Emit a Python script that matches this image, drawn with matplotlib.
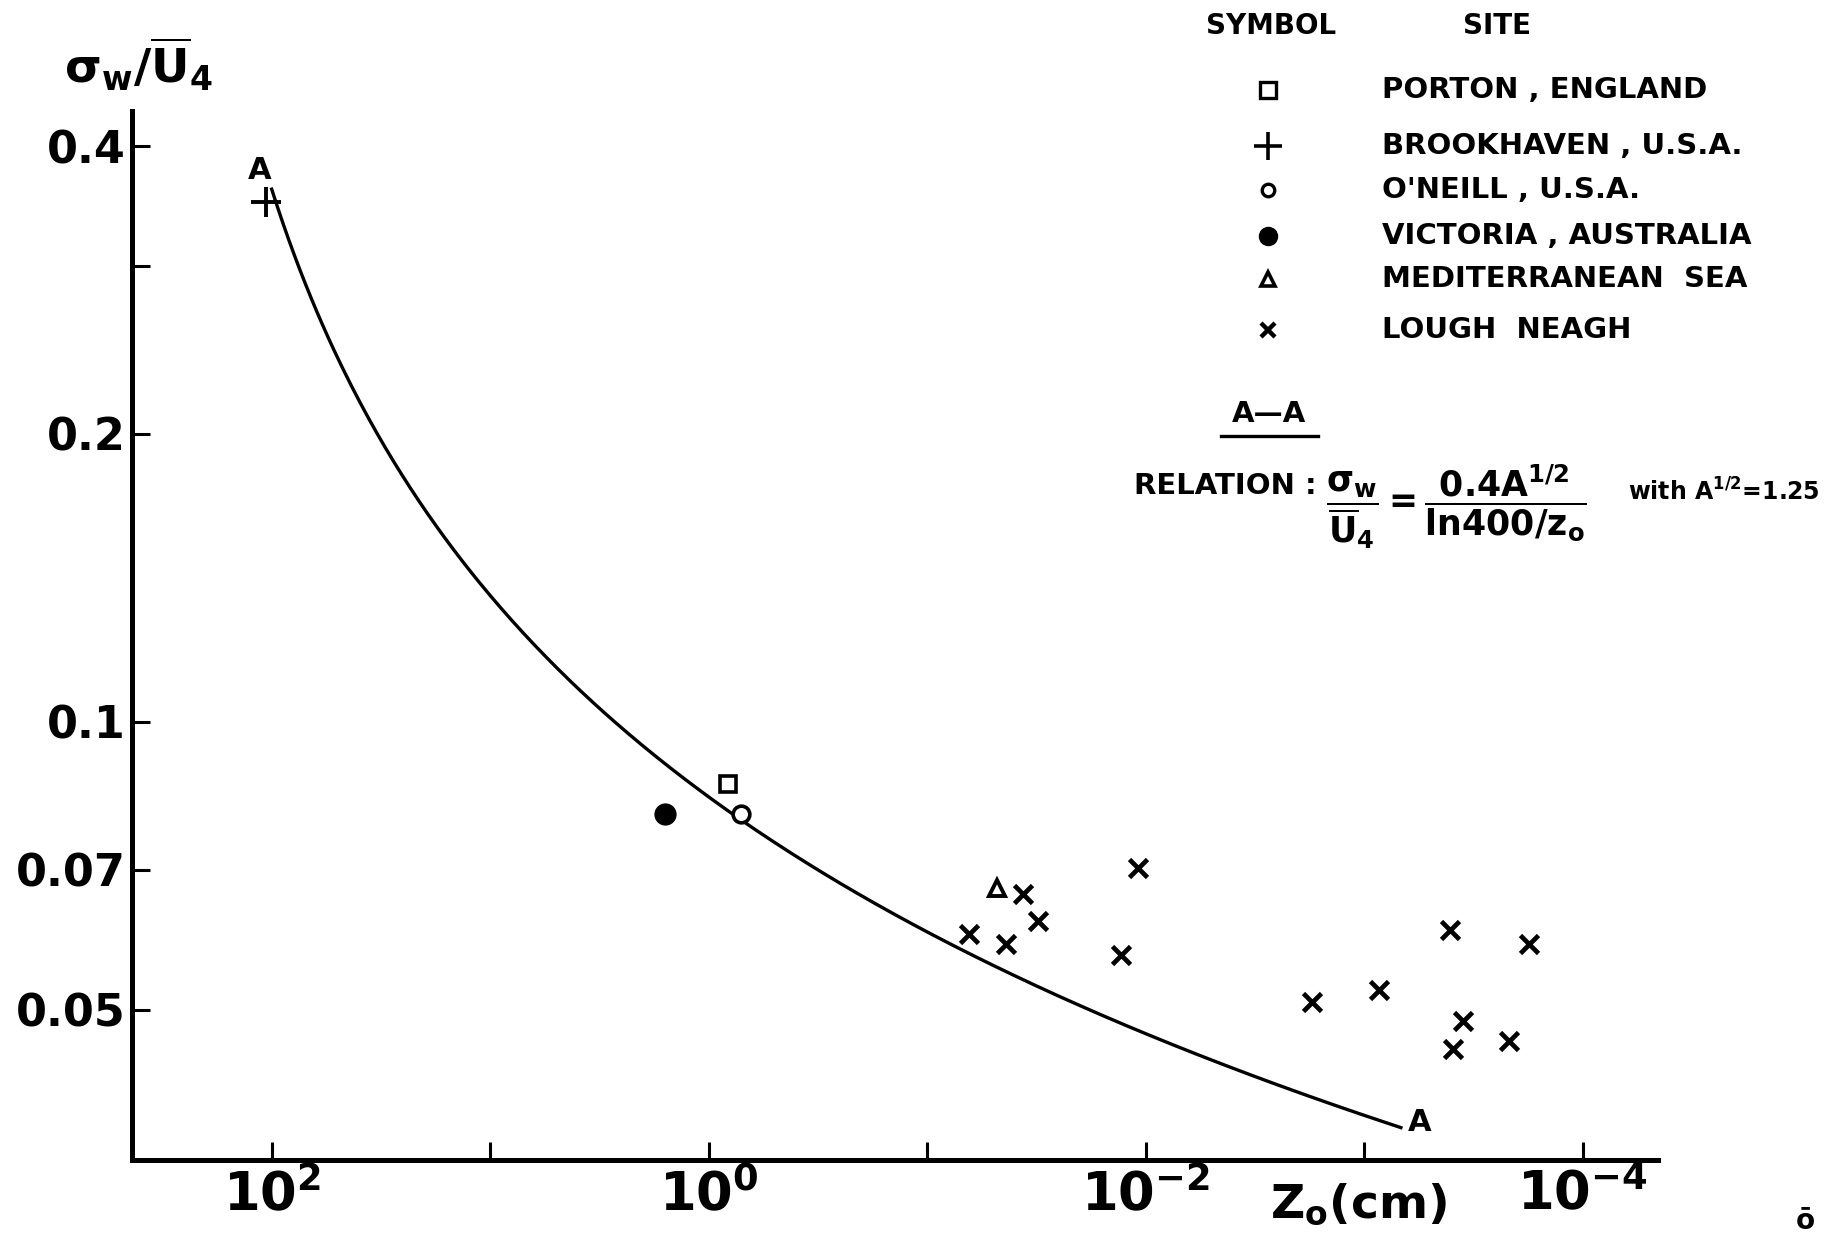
import numpy as np
import matplotlib
matplotlib.use("Agg")
import matplotlib.pyplot as plt

plt.rcParams['font.family'] = ['DejaVu Sans']
plt.rcParams['mathtext.fontset'] = 'dejavusans'
plt.rcParams['font.weight'] = 'bold'
plt.rcParams['mathtext.default'] = 'bf'

# ---- data -------------------------------------------------------------
# roughness length z0 (cm) and sigma_w / U4 for each site
porton_z = [0.82]
porton_v = [0.086]
brookhaven_z = [106.0]
brookhaven_v = [0.350]
oneill_z = [0.71]
oneill_v = [0.080]
victoria_z = [1.58]
victoria_v = [0.080]
medit_z = [0.048]
medit_v = [0.067]
lough_z = [0.0645, 0.0435, 0.0366, 0.0311, 0.0130, 0.0109,
           1.73e-3, 8.57e-4, 4.04e-4, 3.52e-4, 3.94e-4, 2.18e-4, 1.77e-4]
lough_v = [0.060, 0.0585, 0.066, 0.0619, 0.057, 0.0703,
           0.0509, 0.0524, 0.0605, 0.0487, 0.0455, 0.0464, 0.0586]

# relation A-A: sigma_w/U4 = 0.4 A^(1/2) / ln(400/z0), A^(1/2) = 1.25
karman = 0.4
a_half = 1.25
ref_height = 400.0
curve_z_range = [100.0, 6.8e-4]

x_tick_values = [1e2, 1e1, 1e0, 1e-1, 1e-2, 1e-3, 1e-4]
x_tick_labels = [r'$10^{2}$', '', r'$10^{0}$', '', r'$10^{-2}$', '', r'$10^{-4}$']
y_tick_values = [0.4, 0.3, 0.2, 0.1, 0.07, 0.05]
y_tick_labels = ['0.4', '', '0.2', '0.1', '0.07', '0.05']

legend_sites = ['PORTON , ENGLAND', 'BROOKHAVEN , U.S.A.', "O'NEILL , U.S.A.",
                'VICTORIA , AUSTRALIA', 'MEDITERRANEAN  SEA', 'LOUGH  NEAGH']

# ---- figure -----------------------------------------------------------
W, H = 1568.0, 1059.0  # layout grid used for placing annotations
fig = plt.figure(figsize=(18.37, 12.41), dpi=100)
ax = fig.add_axes([113 / W, 1 - 990 / H, (1415 - 113) / W, (990 - 95) / H])

ax.set_xscale('log')
ax.set_yscale('log')
ax.set_xlim(434, 4.54e-5)
ax.set_ylim(0.0348, 0.435)

for s in ['top', 'right']:
    ax.spines[s].set_visible(False)
for s in ['left', 'bottom']:
    ax.spines[s].set_linewidth(3.6)

ax.minorticks_off()
ax.set_xticks(x_tick_values)
ax.set_xticklabels(x_tick_labels)
ax.set_yticks(y_tick_values)
ax.set_yticklabels(y_tick_labels)
ax.tick_params(axis='both', which='major', direction='in', length=13, width=2.2)
ax.tick_params(axis='x', labelsize=38, pad=6)
ax.tick_params(axis='y', labelsize=32, pad=5)

# theoretical curve
zc = np.logspace(np.log10(curve_z_range[0]), np.log10(curve_z_range[1]), 400)
vc = karman * a_half / np.log(ref_height / zc)
ax.plot(zc, vc, color='black', lw=2.4)
ax.text(113, 0.377, 'A', fontsize=22, ha='center', va='center')
ax.text(5.6e-4, 0.0381, 'A', fontsize=22, ha='center', va='center')

# observations
mk = dict(color='black', linestyle='none')
ax.plot(porton_z, porton_v, marker='s', ms=12, mfc='white', mew=2.6, **mk)
ax.plot(brookhaven_z, brookhaven_v, marker='+', ms=22, mew=2.8, **mk)
ax.plot(oneill_z, oneill_v, marker='o', ms=12, mfc='white', mew=2.6, **mk)
ax.plot(victoria_z, victoria_v, marker='o', ms=15, **mk)
ax.plot(medit_z, medit_v, marker='^', ms=12, mfc='white', mew=2.8, **mk)
ax.plot(lough_z, lough_v, marker='x', ms=13, mew=3.4, **mk)

# axis titles
fig.text(55 / W, 1 - 55 / H, r'$\sigma_{w}/\overline{\mathrm{U}}_{4}$', fontsize=34,
         ha='left', va='center')
fig.text(1160 / W, 1 - 1028 / H, r'$\mathrm{Z}_{\mathrm{o}}$(cm)', fontsize=34,
         ha='center', va='center')
fig.text(1541 / W, 1 - 1042 / H, 'ō', fontsize=20, ha='center', va='center')

# legend block on an overlay
ov = fig.add_axes([0, 0, 1, 1], facecolor='none')
ov.set_xlim(0, W)
ov.set_ylim(H, 0)
ov.axis('off')

ov.text(1085, 22, 'SYMBOL', fontsize=20, ha='center', va='center')
ov.text(1278, 22, 'SITE', fontsize=20, ha='center', va='center')
rows = [77, 125, 162, 201, 238, 282]
styles = [dict(marker='s', ms=11, mfc='white', mew=2.4),
          dict(marker='+', ms=20, mew=2.6),
          dict(marker='o', ms=9, mfc='white', mew=2.4),
          dict(marker='o', ms=13),
          dict(marker='^', ms=10, mfc='white', mew=2.6),
          dict(marker='x', ms=10, mew=3.2)]
for yy, st, name in zip(rows, styles, legend_sites):
    ov.plot([1082], [yy], color='black', linestyle='none', **st)
    ov.text(1180, yy, name, fontsize=21, ha='left', va='center')

# relation text
ov.text(1083, 353, 'A—A', fontsize=21, ha='center', va='center')
ov.plot([1042, 1125], [372, 372], color='black', lw=2.4)
ov.text(968, 415, 'RELATION :', fontsize=21, ha='left', va='center')
ov.text(1132, 432,
        r'$\dfrac{\sigma_{w}}{\overline{\mathrm{U}}_{4}}='
        r'\dfrac{0.4\mathrm{A}^{1/2}}{\mathrm{ln}400/\mathrm{z}_{\mathrm{o}}}$',
        fontsize=25, ha='left', va='center')
ov.text(1390, 420, r'with A$^{1/2}$=1.25', fontsize=17, ha='left', va='center')

fig.savefig('out.png', dpi=100, facecolor='white')
